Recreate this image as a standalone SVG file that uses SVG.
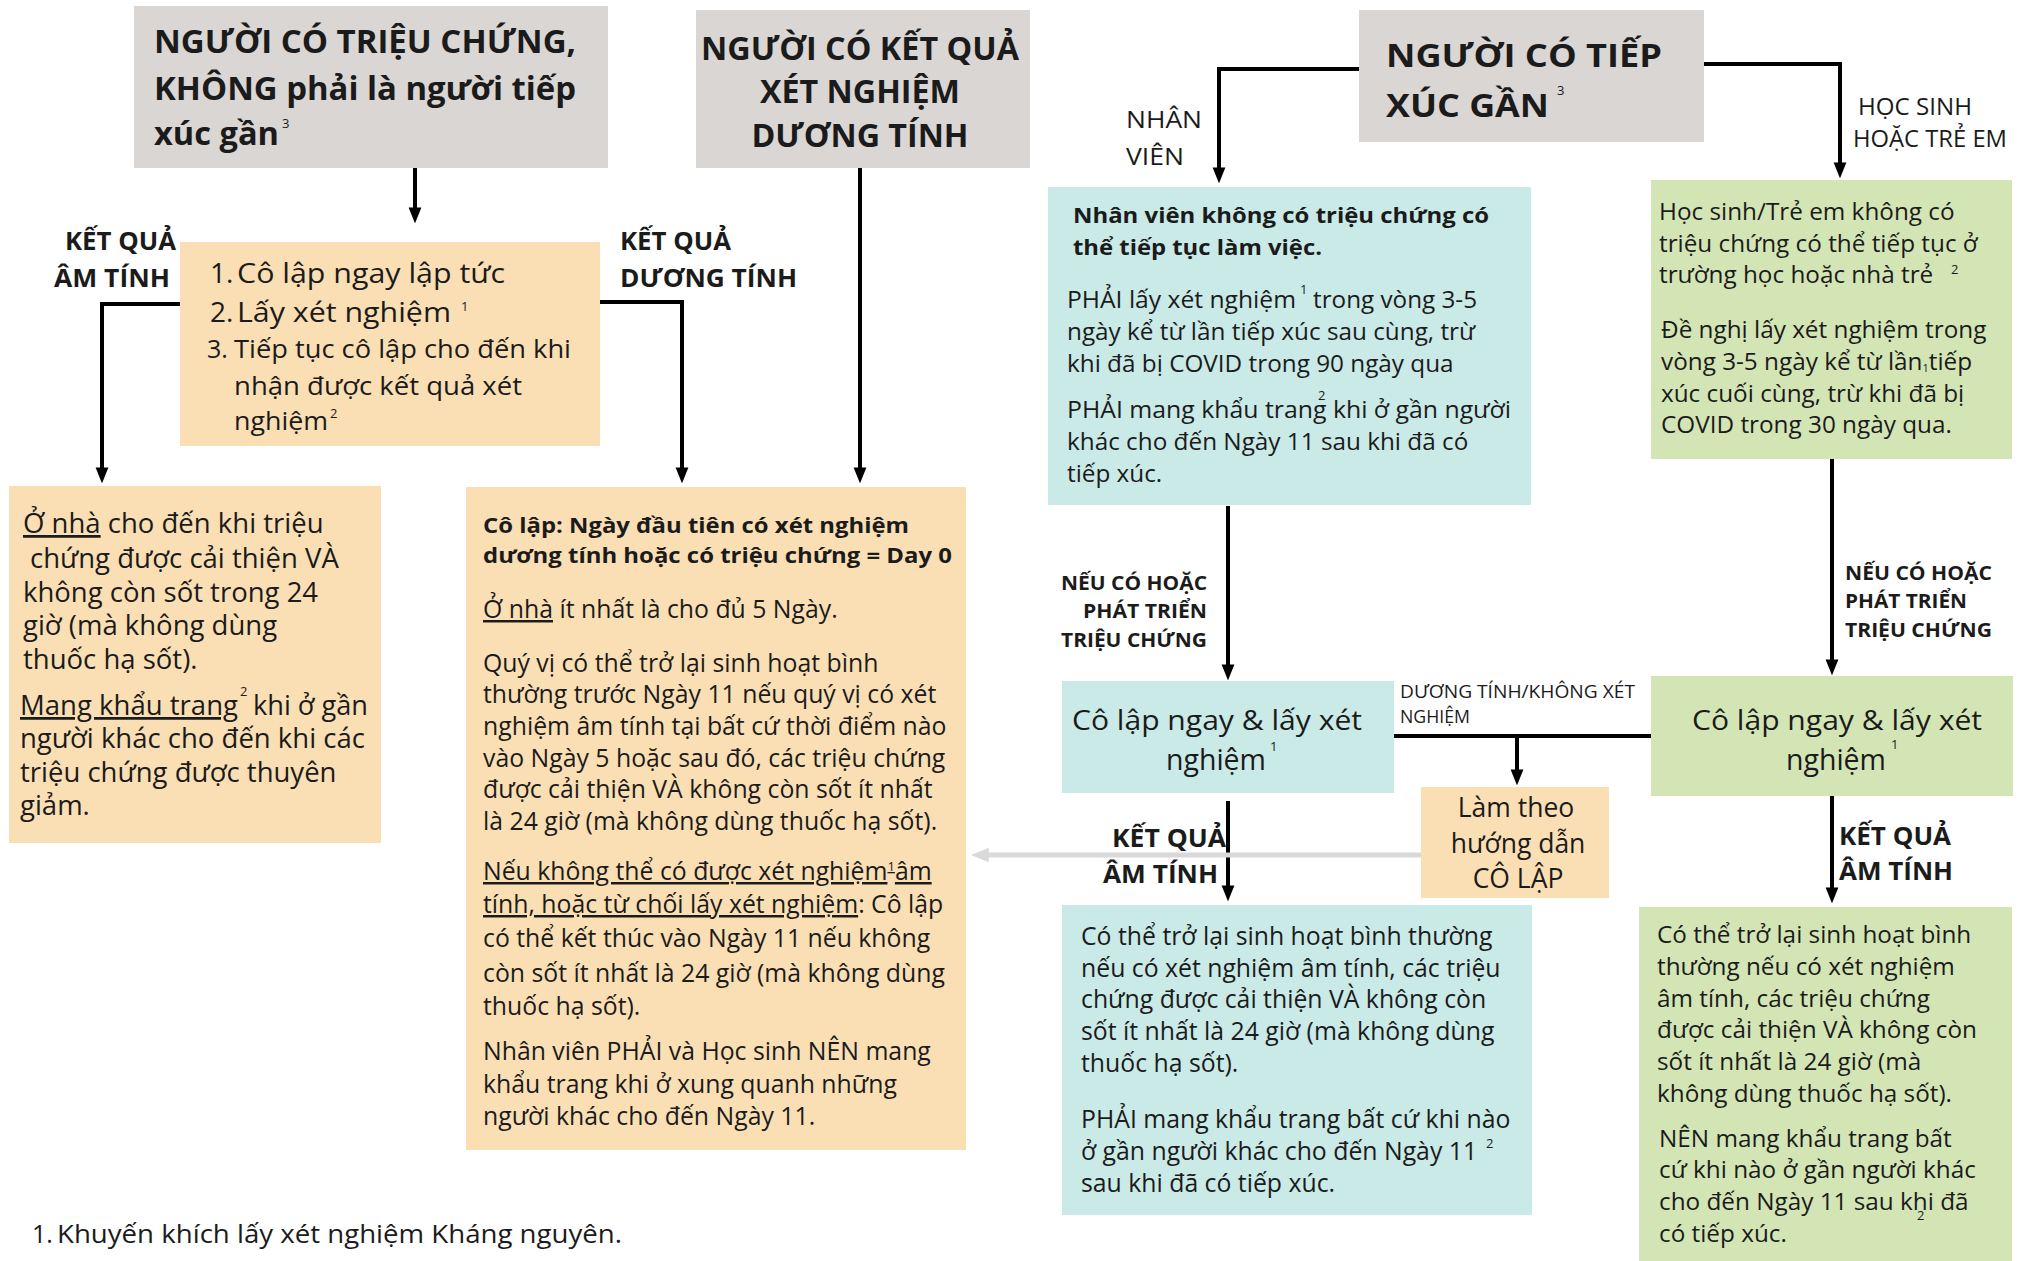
<svg xmlns="http://www.w3.org/2000/svg" width="2021" height="1261" viewBox="0 0 2021 1261">
<style>
text{font-family:"Open Sans","Noto Sans","DejaVu Sans",sans-serif;fill:#1b1b1b}
.h{font-weight:700;font-size:33px}
.b{font-size:24.8px}
.m{font-size:24.3px}
.l{font-size:27.5px}
.bb{font-size:22px;font-weight:700}
.lb{font-weight:700;font-size:25px}
.ls{font-weight:700;font-size:20px}
.lr{font-size:23px}
.sup{font-size:13px}
.gray{fill:#dad6d3}
.peach{fill:#fbdfb4}
.teal{fill:#c9eae7}
.green{fill:#d3e5b5}
.con{fill:none;stroke:#000;stroke-width:4}
</style>
<defs>
<marker id="ah" viewBox="0 0 10 10" refX="6" refY="5" markerWidth="16" markerHeight="16" markerUnits="userSpaceOnUse" orient="auto">
<path d="M0,1 L10,5 L0,9 z" fill="#000"/>
</marker>
<marker id="ahg" viewBox="0 0 10 10" refX="6" refY="5" markerWidth="18" markerHeight="18" markerUnits="userSpaceOnUse" orient="auto">
<path d="M0,1 L10,5 L0,9 z" fill="#d9d9d9"/>
</marker>
</defs>
<rect width="2021" height="1261" fill="#fff"/>

<g id="connectors">
<path class="con" d="M415,168 V217" marker-end="url(#ah)"/>
<path class="con" d="M180,304 H102 V477" marker-end="url(#ah)"/>
<path class="con" d="M600,302 H682 V477" marker-end="url(#ah)"/>
<path class="con" d="M860,168 V477" marker-end="url(#ah)"/>
<path class="con" d="M1360,69 H1219 V177" marker-end="url(#ah)"/>
<path class="con" d="M1704,64 H1840 V172" marker-end="url(#ah)"/>
<path class="con" d="M1228,506 V674" marker-end="url(#ah)"/>
<path class="con" d="M1832,459 V669" marker-end="url(#ah)"/>
<path class="con" d="M1228,801 V895" marker-end="url(#ah)"/>
<path class="con" d="M1832,796 V897" marker-end="url(#ah)"/>
<path class="con" d="M1394,736 H1651"/>
<path class="con" d="M1517,736 V779" marker-end="url(#ah)"/>
<path d="M1421,855 H978" fill="none" stroke="#d9d9d9" stroke-width="5" marker-end="url(#ahg)"/>
<text class="lb" x="65" y="250" textLength="111" lengthAdjust="spacingAndGlyphs">KẾT QUẢ</text>
<text class="lb" x="54" y="287" textLength="116" lengthAdjust="spacingAndGlyphs">ÂM TÍNH</text>
<text class="lb" x="620" y="250" textLength="111" lengthAdjust="spacingAndGlyphs">KẾT QUẢ</text>
<text class="lb" x="620" y="287" textLength="177" lengthAdjust="spacingAndGlyphs">DƯƠNG TÍNH</text>
<text class="lr" x="1126" y="128" font-size="24" textLength="76" lengthAdjust="spacingAndGlyphs">NHÂN</text>
<text class="lr" x="1126" y="165" font-size="24" textLength="58" lengthAdjust="spacingAndGlyphs">VIÊN</text>
<text class="lr" x="1858" y="115" textLength="114" lengthAdjust="spacingAndGlyphs">HỌC SINH</text>
<text class="lr" x="1853" y="147" textLength="154" lengthAdjust="spacingAndGlyphs">HOẶC TRẺ EM</text>
<text class="ls" x="1061" y="590" textLength="146" lengthAdjust="spacingAndGlyphs">NẾU CÓ HOẶC</text>
<text class="ls" x="1083" y="618" textLength="124" lengthAdjust="spacingAndGlyphs">PHÁT TRIỂN</text>
<text class="ls" x="1061" y="647" textLength="146" lengthAdjust="spacingAndGlyphs">TRIỆU CHỨNG</text>
<text class="ls" x="1845" y="580" textLength="147" lengthAdjust="spacingAndGlyphs">NẾU CÓ HOẶC</text>
<text class="ls" x="1845" y="608" textLength="122" lengthAdjust="spacingAndGlyphs">PHÁT TRIỂN</text>
<text class="ls" x="1845" y="637" textLength="147" lengthAdjust="spacingAndGlyphs">TRIỆU CHỨNG</text>
<text x="1400" y="698" font-size="17.5" textLength="235" lengthAdjust="spacingAndGlyphs">DƯƠNG TÍNH/KHÔNG XÉT</text>
<text x="1400" y="723" font-size="17.5" textLength="70" lengthAdjust="spacingAndGlyphs">NGHIỆM</text>
<text class="lb" x="1112" y="847" textLength="114" lengthAdjust="spacingAndGlyphs">KẾT QUẢ</text>
<text class="lb" x="1103" y="883" textLength="115" lengthAdjust="spacingAndGlyphs">ÂM TÍNH</text>
<text class="lb" x="1839" y="845" textLength="112" lengthAdjust="spacingAndGlyphs">KẾT QUẢ</text>
<text class="lb" x="1839" y="880" textLength="114" lengthAdjust="spacingAndGlyphs">ÂM TÍNH</text>
</g>

<g id="node-symptomatic">
<rect class="gray" x="134" y="6" width="474" height="162"/>
<text class="h" x="154" y="53" textLength="422" lengthAdjust="spacingAndGlyphs">NGƯỜI CÓ TRIỆU CHỨNG,</text>
<text class="h" x="154" y="100" textLength="422" lengthAdjust="spacingAndGlyphs">KHÔNG phải là người tiếp</text>
<text class="h" x="154" y="145" textLength="125" lengthAdjust="spacingAndGlyphs">xúc gần</text>
<text class="sup" x="282" y="128">3</text>
</g>

<g id="node-positive">
<rect class="gray" x="696" y="10" width="334" height="158"/>
<text class="h" x="860" y="60" text-anchor="middle" textLength="318" lengthAdjust="spacingAndGlyphs">NGƯỜI CÓ KẾT QUẢ</text>
<text class="h" x="860" y="103" text-anchor="middle" textLength="200" lengthAdjust="spacingAndGlyphs">XÉT NGHIỆM</text>
<text class="h" x="860" y="147" text-anchor="middle" textLength="217" lengthAdjust="spacingAndGlyphs">DƯƠNG TÍNH</text>
</g>

<g id="node-close-contact">
<rect class="gray" x="1359" y="10" width="345" height="132"/>
<text class="h" x="1386" y="67" font-size="36" textLength="276" lengthAdjust="spacingAndGlyphs">NGƯỜI CÓ TIẾP</text>
<text class="h" x="1386" y="117" font-size="36" textLength="163" lengthAdjust="spacingAndGlyphs">XÚC GẦN</text>
<text class="sup" x="1557" y="95" font-size="15">3</text>
</g>

<g id="node-isolate-test">
<rect class="peach" x="180" y="242" width="420" height="204"/>
<text x="210" y="283" font-size="28">1.</text>
<text x="237" y="283" font-size="28" textLength="268" lengthAdjust="spacingAndGlyphs">Cô lập ngay lập tức</text>
<text x="210" y="322" font-size="28">2.</text>
<text x="237" y="322" font-size="28" textLength="214" lengthAdjust="spacingAndGlyphs">Lấy xét nghiệm</text>
<text class="sup" x="461" y="311">1</text>
<text x="207" y="358" font-size="25">3.</text>
<text x="234" y="358" font-size="25" textLength="337" lengthAdjust="spacingAndGlyphs">Tiếp tục cô lập cho đến khi</text>
<text x="234" y="395" font-size="25" textLength="288" lengthAdjust="spacingAndGlyphs">nhận được kết quả xét</text>
<text x="234" y="430" font-size="25" textLength="94" lengthAdjust="spacingAndGlyphs">nghiệm</text>
<text class="sup" x="330" y="418">2</text>
</g>

<g id="node-negative-home">
<rect class="peach" x="9" y="486" width="372" height="357"/>
<text class="l" x="23" y="533"><tspan text-decoration="underline">Ở nhà</tspan> cho đến khi triệu</text>
<text class="l" x="30" y="568">chứng được cải thiện VÀ</text>
<text class="l" x="23" y="602">không còn sốt trong 24</text>
<text class="l" x="23" y="635">giờ (mà không dùng</text>
<text class="l" x="23" y="669">thuốc hạ sốt).</text>
<text class="l" x="20" y="715" text-decoration="underline" textLength="218" lengthAdjust="spacingAndGlyphs">Mang khẩu trang</text>
<text class="sup" x="240" y="696">2</text>
<text class="l" x="253" y="715" textLength="115" lengthAdjust="spacingAndGlyphs">khi ở gần</text>
<text class="l" x="20" y="748">người khác cho đến khi các</text>
<text class="l" x="20" y="782">triệu chứng được thuyên</text>
<text class="l" x="20" y="815">giảm.</text>
</g>

<g id="node-isolation">
<rect class="peach" x="466" y="487" width="500" height="663"/>
<text class="bb" x="483" y="533" textLength="426" lengthAdjust="spacingAndGlyphs">Cô lập: Ngày đầu tiên có xét nghiệm</text>
<text class="bb" x="483" y="563" textLength="469" lengthAdjust="spacingAndGlyphs">dương tính hoặc có triệu chứng = Day 0</text>
<text class="b" x="483" y="618"><tspan text-decoration="underline">Ở nhà</tspan> ít nhất là cho đủ 5 Ngày.</text>
<text class="b" x="483" y="672">Quý vị có thể trở lại sinh hoạt bình</text>
<text class="b" x="483" y="703">thường trước Ngày 11 nếu quý vị có xét</text>
<text class="b" x="483" y="735">nghiệm âm tính tại bất cứ thời điểm nào</text>
<text class="b" x="483" y="767">vào Ngày 5 hoặc sau đó, các triệu chứng</text>
<text class="b" x="483" y="798">được cải thiện VÀ không còn sốt ít nhất</text>
<text class="b" x="483" y="830">là 24 giờ (mà không dùng thuốc hạ sốt).</text>
<text class="b" x="483" y="880" text-decoration="underline">Nếu không thể có được xét nghiệm<tspan font-size="13" dy="-9">1</tspan><tspan dy="9">âm</tspan></text>
<text class="b" x="483" y="913"><tspan text-decoration="underline">tính, hoặc từ chối lấy xét nghiệm</tspan>: Cô lập</text>
<text class="b" x="483" y="947">có thể kết thúc vào Ngày 11 nếu không</text>
<text class="b" x="483" y="982">còn sốt ít nhất là 24 giờ (mà không dùng</text>
<text class="b" x="483" y="1015">thuốc hạ sốt).</text>
<text class="b" x="483" y="1060">Nhân viên PHẢI và Học sinh NÊN mang</text>
<text class="b" x="483" y="1093">khẩu trang khi ở xung quanh những</text>
<text class="b" x="483" y="1125">người khác cho đến Ngày 11.</text>
</g>

<g id="node-staff">
<rect class="teal" x="1048" y="187" width="483" height="318"/>
<text class="bb" x="1073" y="223" textLength="416" lengthAdjust="spacingAndGlyphs">Nhân viên không có triệu chứng có</text>
<text class="bb" x="1073" y="255" textLength="249" lengthAdjust="spacingAndGlyphs">thể tiếp tục làm việc.</text>
<text class="m" x="1067" y="308" textLength="229" lengthAdjust="spacingAndGlyphs">PHẢI lấy xét nghiệm</text>
<text class="sup" x="1300" y="294">1</text>
<text class="m" x="1313" y="308" textLength="164" lengthAdjust="spacingAndGlyphs">trong vòng 3-5</text>
<text class="m" x="1067" y="340">ngày kể từ lần tiếp xúc sau cùng, trừ</text>
<text class="m" x="1067" y="372">khi đã bị COVID trong 90 ngày qua</text>
<text class="m" x="1067" y="418" textLength="444" lengthAdjust="spacingAndGlyphs">PHẢI mang khẩu trang khi ở gần người</text>
<text class="sup" x="1318" y="400">2</text>
<text class="m" x="1067" y="450">khác cho đến Ngày 11 sau khi đã có</text>
<text class="m" x="1067" y="482">tiếp xúc.</text>
</g>

<g id="node-students">
<rect class="green" x="1651" y="180" width="361" height="279"/>
<text class="m" x="1659" y="220">Học sinh/Trẻ em không có</text>
<text class="m" x="1659" y="252">triệu chứng có thể tiếp tục ở</text>
<text class="m" x="1659" y="283">trường học hoặc nhà trẻ</text>
<text class="sup" x="1951" y="274">2</text>
<text class="m" x="1661" y="338">Đề nghị lấy xét nghiệm trong</text>
<text class="m" x="1661" y="370">vòng 3-5 ngày kể từ lần<tspan font-size="11" dy="2">1</tspan><tspan dy="-2">tiếp</tspan></text>
<text class="m" x="1661" y="402">xúc cuối cùng, trừ khi đã bị</text>
<text class="m" x="1661" y="433">COVID trong 30 ngày qua.</text>
</g>

<g id="node-staff-isolate">
<rect class="teal" x="1062" y="681" width="332" height="112"/>
<text x="1217" y="730" font-size="28" text-anchor="middle" textLength="290" lengthAdjust="spacingAndGlyphs">Cô lập ngay &amp; lấy xét</text>
<text x="1216" y="770" font-size="28.5" text-anchor="middle">nghiệm</text>
<text class="sup" x="1270" y="751">1</text>
</g>

<g id="node-student-isolate">
<rect class="green" x="1651" y="676" width="362" height="120"/>
<text x="1837" y="730" font-size="28" text-anchor="middle" textLength="290" lengthAdjust="spacingAndGlyphs">Cô lập ngay &amp; lấy xét</text>
<text x="1836" y="770" font-size="28.5" text-anchor="middle">nghiệm</text>
<text class="sup" x="1891" y="749">1</text>
</g>

<g id="node-follow-isolation">
<rect class="peach" x="1421" y="787" width="188" height="111"/>
<text x="1516" y="817" font-size="26.5" text-anchor="middle">Làm theo</text>
<text x="1518" y="853" font-size="26.5" text-anchor="middle">hướng dẫn</text>
<text x="1518" y="888" font-size="26.5" text-anchor="middle">CÔ LẬP</text>
</g>

<g id="node-staff-negative">
<rect class="teal" x="1062" y="905" width="470" height="310"/>
<text class="b" x="1081" y="945">Có thể trở lại sinh hoạt bình thường</text>
<text class="b" x="1081" y="977">nếu có xét nghiệm âm tính, các triệu</text>
<text class="b" x="1081" y="1008">chứng được cải thiện VÀ không còn</text>
<text class="b" x="1081" y="1040">sốt ít nhất là 24 giờ (mà không dùng</text>
<text class="b" x="1081" y="1072">thuốc hạ sốt).</text>
<text class="b" x="1081" y="1128">PHẢI mang khẩu trang bất cứ khi nào</text>
<text class="b" x="1081" y="1160">ở gần người khác cho đến Ngày 11</text>
<text class="sup" x="1486" y="1148">2</text>
<text class="b" x="1081" y="1192">sau khi đã có tiếp xúc.</text>
</g>

<g id="node-student-negative">
<rect class="green" x="1639" y="907" width="373" height="354"/>
<text class="m" x="1657" y="943">Có thể trở lại sinh hoạt bình</text>
<text class="m" x="1657" y="975">thường nếu có xét nghiệm</text>
<text class="m" x="1657" y="1007">âm tính, các triệu chứng</text>
<text class="m" x="1657" y="1038">được cải thiện VÀ không còn</text>
<text class="m" x="1657" y="1070">sốt ít nhất là 24 giờ (mà</text>
<text class="m" x="1657" y="1102">không dùng thuốc hạ sốt).</text>
<text class="m" x="1659" y="1147">NÊN mang khẩu trang bất</text>
<text class="m" x="1659" y="1178">cứ khi nào ở gần người khác</text>
<text class="m" x="1659" y="1210">cho đến Ngày 11 sau khi đã</text>
<text class="sup" x="1917" y="1220">2</text>
<text class="m" x="1659" y="1242">có tiếp xúc.</text>
</g>

<g id="footnote">
<text x="32" y="1243" font-size="25">1.</text>
<text x="57" y="1243" font-size="25" textLength="565" lengthAdjust="spacingAndGlyphs">Khuyến khích lấy xét nghiệm Kháng nguyên.</text>
</g>
</svg>
